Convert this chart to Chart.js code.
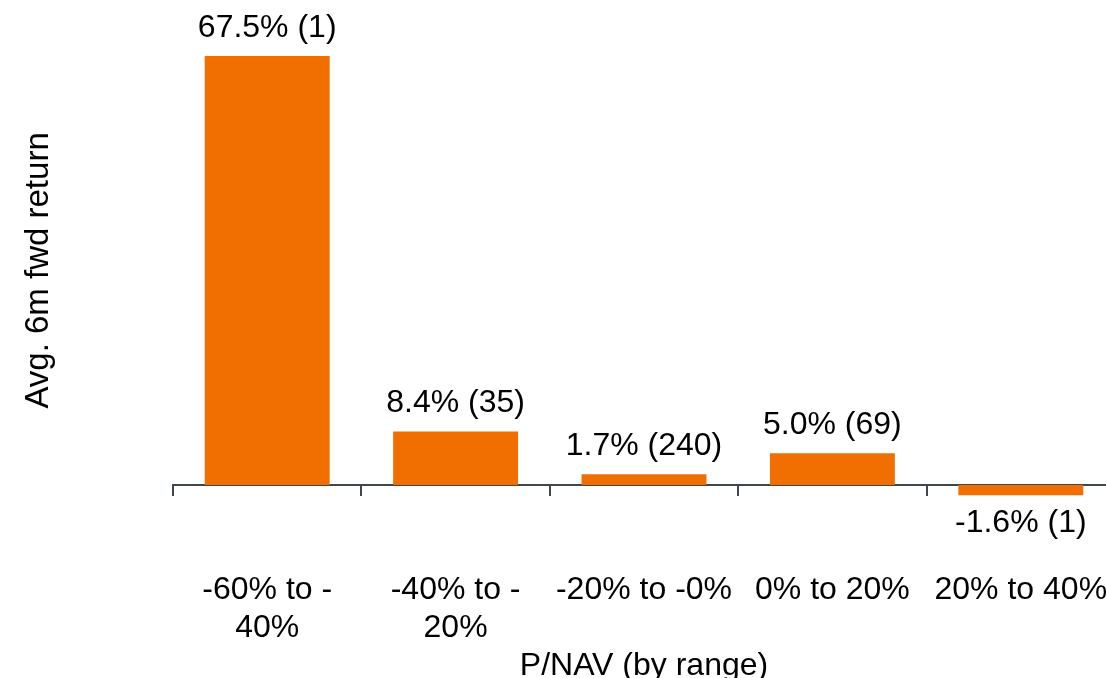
<!DOCTYPE html>
<html>
<head>
<meta charset="utf-8">
<script src="https://cdn.jsdelivr.net/npm/chart.js@4.4.1/dist/chart.umd.min.js"></script>
<style>
  html, body { margin: 0; padding: 0; overflow: hidden; background: #ffffff; }
  #wrap { position: absolute; left: 0; top: 0; width: 1145px; height: 678px; }
</style>
</head>
<body>
<div id="wrap"><canvas id="chart"></canvas></div>
<script>
// P/NAV buckets, average 6-month forward return (%) and number of observations
const categories = [['-60% to -', '40%'], ['-40% to -', '20%'], '-20% to -0%', '0% to 20%', '20% to 40%'];
const avgReturn = [67.5, 8.4, 1.7, 5.0, -1.6];
const sampleCount = [1, 35, 240, 69, 1];

const FONT = '"Liberation Sans", Arial, Helvetica, sans-serif';
const AXIS_COLOR = '#404650';
const BAR_COLOR = 'rgb(240,111,0)';

// Writes "value% (count)" above positive bars and below negative ones
const valueLabels = {
  id: 'valueLabels',
  afterDatasetsDraw(chart) {
    const ctx = chart.ctx;
    const meta = chart.getDatasetMeta(0);
    ctx.save();
    ctx.font = '32px ' + FONT;
    ctx.fillStyle = '#000000';
    ctx.textAlign = 'center';
    ctx.textBaseline = 'middle';
    meta.data.forEach((bar, i) => {
      const v = avgReturn[i];
      const text = v.toFixed(1) + '% (' + sampleCount[i] + ')';
      const y = v >= 0 ? bar.y - 28 : bar.y + 28;
      ctx.fillText(text, bar.x, y);
    });
    ctx.restore();
  }
};

new Chart(document.getElementById('chart'), {
  type: 'bar',
  data: {
    labels: categories,
    datasets: [{
      data: avgReturn,
      xAxisID: 'x',
      yAxisID: 'y',
      backgroundColor: BAR_COLOR,
      borderWidth: 0,
      barPercentage: 0.663,
      categoryPercentage: 1.0
    }]
  },
  options: {
    responsive: true,
    maintainAspectRatio: false,
    animation: false,
    devicePixelRatio: 1,
    layout: { padding: { top: 1.87, right: 30, bottom: 0, left: 0 } },
    plugins: {
      legend: { display: false },
      tooltip: { enabled: false },
      title: { display: false }
    },
    scales: {
      x: {
        type: 'category',
        position: 'bottom',
        offset: true,
        grid: { display: false, drawTicks: false },
        border: { display: false },
        ticks: {
          color: '#000000',
          font: { family: FONT, size: 32, lineHeight: '38.5px' },
          padding: 31.7,
          maxRotation: 0,
          minRotation: 0,
          autoSkip: false
        },
        title: {
          display: true,
          text: 'P/NAV (by range)',
          color: '#000000',
          font: { family: FONT, size: 32, lineHeight: 1 },
          padding: { top: -29.7, bottom: -3.7 }
        }
      },
      // zero line with category separator ticks
      x0: {
        type: 'category',
        labels: categories,
        position: { y: 0 },
        offset: true,
        z: 1,
        grid: {
          display: true,
          offset: true,
          drawOnChartArea: false,
          drawTicks: true,
          tickLength: 10,
          color: AXIS_COLOR,
          lineWidth: 2
        },
        border: { display: true, color: AXIS_COLOR, width: 2 },
        ticks: { display: false }
      },
      y: {
        type: 'linear',
        position: 'left',
        min: -8.5,
        max: 76,
        grid: { display: false, drawTicks: false },
        border: { display: false },
        ticks: { display: false },
        title: {
          display: true,
          text: 'Avg. 6m fwd return',
          color: '#000000',
          font: { family: FONT, size: 33, lineHeight: 1 },
          padding: { top: 22.5, bottom: 117.5 }
        }
      }
    }
  },
  plugins: [valueLabels]
});
</script>
</body>
</html>
